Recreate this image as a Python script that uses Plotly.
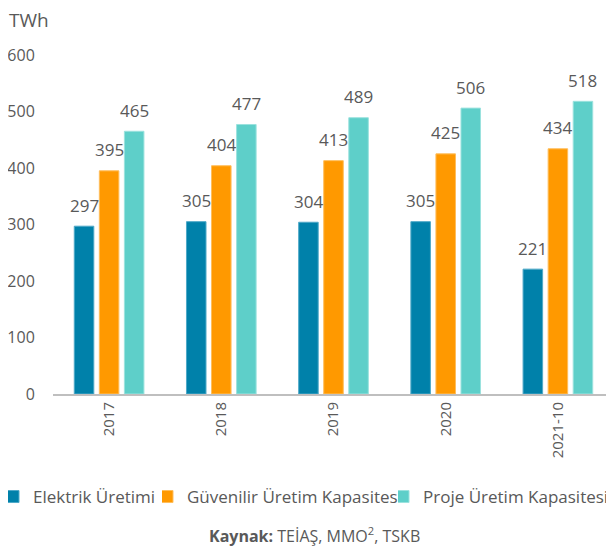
import plotly.graph_objects as go

years = ["2017", "2018", "2019", "2020", "2021-10"]
elektrik = [297, 305, 304, 305, 221]
guvenilir = [395, 404, 413, 425, 434]
proje = [465, 477, 489, 506, 518]

# the page body adds an 8px margin, so the figure is drawn 8px smaller
W, H = 606, 539

series = [
    ("Elektrik Üretimi", elektrik, "#0081AA", "#4FA9C8", "legend", 0.0),
    ("Güvenilir Üretim Kapasitesi", guvenilir, "#FF9900", "#FFBE5C", "legend2", 0.2541),
    ("Proje Üretim Kapasitesi", proje, "#5ECFC9", "#9BE2DE", "legend3", 0.6436),
]

font_family = "Open Sans, Noto Sans, sans-serif"
grey = "#595959"

fig = go.Figure()
for name, vals, col, edge, leg, lx in series:
    fig.add_trace(go.Bar(
        x=years, y=vals, name=name, legend=leg,
        marker=dict(color=col, line=dict(color=edge, width=1)),
    ))

# value labels above bars
offsets = [-1, 0, 1]
for k, (name, vals, col, edge, leg, lx) in enumerate(series):
    for i, v in enumerate(vals):
        fig.add_annotation(
            x=i, y=v, xref="x", yref="y", text=str(v),
            showarrow=False, yanchor="middle", yshift=21,
            xshift=offsets[k] * 25,
            font=dict(size=17, color=grey, family=font_family),
        )

fig.add_annotation(
    x=-0.082, y=1.103, xref="paper", yref="paper", xanchor="left", yanchor="middle",
    text="TWh", showarrow=False, font=dict(size=19, color=grey, family=font_family),
)

fig.add_annotation(
    x=0.467, y=-0.416, xref="paper", yref="paper", xanchor="center", yanchor="middle",
    text="<b>Kaynak:</b> TEİAŞ, MMO<sup>2</sup>, TSKB", showarrow=False,
    font=dict(size=16, color=grey, family=font_family),
)

legends = {}
for name, vals, col, edge, leg, lx in series:
    legends[leg] = dict(
        orientation="h", xref="container", yref="container",
        x=lx, xanchor="left", y=0.0928, yanchor="middle",
        font=dict(size=17, color=grey, family=font_family), itemwidth=30,
        indentation=-15, bgcolor="rgba(0,0,0,0)",
    )

fig.update_layout(
    width=W, height=H,
    margin=dict(l=45, r=0, t=47, b=153, autoexpand=False),
    paper_bgcolor="white", plot_bgcolor="white",
    font=dict(family=font_family, color=grey, size=14),
    barmode="group", bargap=0.33, bargroupgap=0.22,
    showlegend=True,
    xaxis=dict(
        type="category", tickangle=-90,
        showline=True, linecolor="#BFBFBF", linewidth=2,
        showgrid=False, ticks="", tickfont=dict(size=15, color=grey),
    ),
    yaxis=dict(
        range=[0, 600], dtick=100, showgrid=False, zeroline=False,
        showline=False, ticks="outside", ticklen=14, tickcolor="rgba(0,0,0,0)",
        tickfont=dict(size=16, color=grey),
    ),
    **legends,
)

fig.write_html("out.html")
